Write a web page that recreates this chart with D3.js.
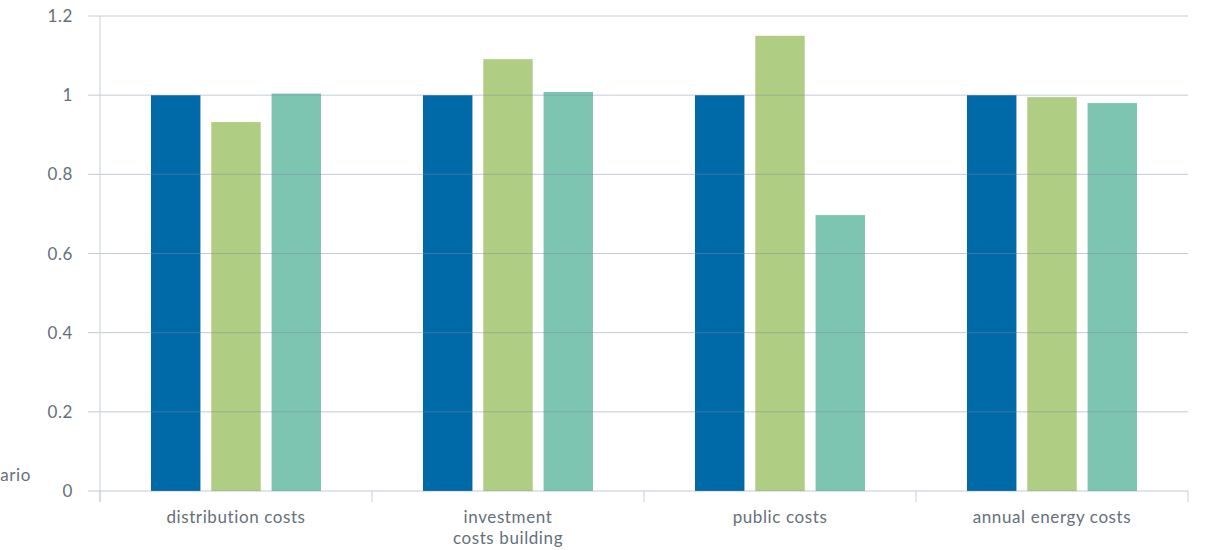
<!DOCTYPE html>
<html>
<head>
<meta charset="utf-8">
<script src="https://cdn.jsdelivr.net/npm/d3@7"></script>
<style>
  body { margin: 0; background: #fff; }
  text { font-family: Lato, "Open Sans", sans-serif; fill: #65707b; font-weight: 400; }
</style>
</head>
<body>
<div id="chart"></div>
<script>
const categories = [["distribution costs"], ["investment", "costs building"], ["public costs"], ["annual energy costs"]];
const seriesNames = ["Reference scenario", "Scenario A", "Scenario B"];
const reference = [1, 1, 1, 1];
const scenarioA = [0.932, 1.091, 1.15, 0.995];
const scenarioB = [1.004, 1.008, 0.697, 0.98];
const yTicks = [0, 0.2, 0.4, 0.6, 0.8, 1, 1.2];
const colors = ["#0069a8", "#afce84", "#7ec5b1"];

const width = 1212, height = 550;
const margin = { top: 16, right: 24, bottom: 59, left: 100 };

const svg = d3.select('#chart').append('svg')
    .attr('width', width)
    .attr('height', height);

const x0 = d3.scaleBand()
    .domain(d3.range(categories.length))
    .range([margin.left, width - margin.right]);

const x1 = d3.scaleBand()
    .domain(d3.range(seriesNames.length))
    .range([51, x0.bandwidth() - 51])
    .paddingInner(0.18);

const y = d3.scaleLinear()
    .domain([0, 1.2])
    .range([height - margin.bottom, margin.top]);

const series = [reference, scenarioA, scenarioB];

// bars
const groups = svg.append('g')
    .selectAll('g')
    .data(categories)
    .enter().append('g')
    .attr('transform', (d, i) => 'translate(' + x0(i) + ',0)');

groups.selectAll('rect')
    .data((d, i) => series.map((s, j) => ({ s: j, v: s[i] })))
    .enter().append('rect')
    .attr('x', d => x1(d.s))
    .attr('width', x1.bandwidth())
    .attr('y', d => y(d.v))
    .attr('height', d => y(0) - y(d.v))
    .attr('fill', d => colors[d.s]);

// grid lines on top of bars
svg.append('g')
    .selectAll('line')
    .data(yTicks)
    .enter().append('line')
    .attr('x1', margin.left - 12)
    .attr('x2', width - margin.right)
    .attr('y1', d => y(d))
    .attr('y2', d => y(d))
    .attr('stroke', 'rgba(120,140,165,0.45)')
    .attr('stroke-width', 1);

// y axis line
svg.append('line')
    .attr('x1', margin.left).attr('x2', margin.left)
    .attr('y1', margin.top).attr('y2', y(0) + 11)
    .attr('stroke', '#c7cfd8');

// y tick labels
svg.append('g')
    .selectAll('text')
    .data(yTicks)
    .enter().append('text')
    .attr('x', margin.left - 27)
    .attr('y', d => y(d) + 6)
    .style('text-anchor', 'end')
    .style('font-size', '17px')
    .style('letter-spacing', '0.6px')
    .text(d => d3.format('~g')(d));

// x axis category boundaries
const bounds = d3.range(categories.length + 1).map(i => margin.left + i * x0.step());
svg.append('g')
    .selectAll('line')
    .data(bounds)
    .enter().append('line')
    .attr('x1', d => d).attr('x2', d => d)
    .attr('y1', y(0)).attr('y2', y(0) + 11)
    .attr('stroke', '#c7cfd8');

// x labels
const xl = svg.append('g')
    .selectAll('text')
    .data(categories)
    .enter().append('text')
    .attr('x', (d, i) => x0(i) + x0.bandwidth() / 2)
    .attr('y', y(0) + 32)
    .style('text-anchor', 'middle')
    .style('font-size', '17px')
    .style('letter-spacing', '0.6px');

xl.selectAll('tspan')
    .data(d => d)
    .enter().append('tspan')
    .attr('x', function() { return d3.select(this.parentNode).attr('x'); })
    .attr('dy', (d, i) => i === 0 ? 0 : 21)
    .text(d => d);

// cut-off legend text at left edge
svg.append('text')
    .attr('x', 31)
    .attr('y', 481)
    .style('text-anchor', 'end')
    .style('font-size', '17px')
    .style('letter-spacing', '0.6px')
    .text('ario');
</script>
</body>
</html>
